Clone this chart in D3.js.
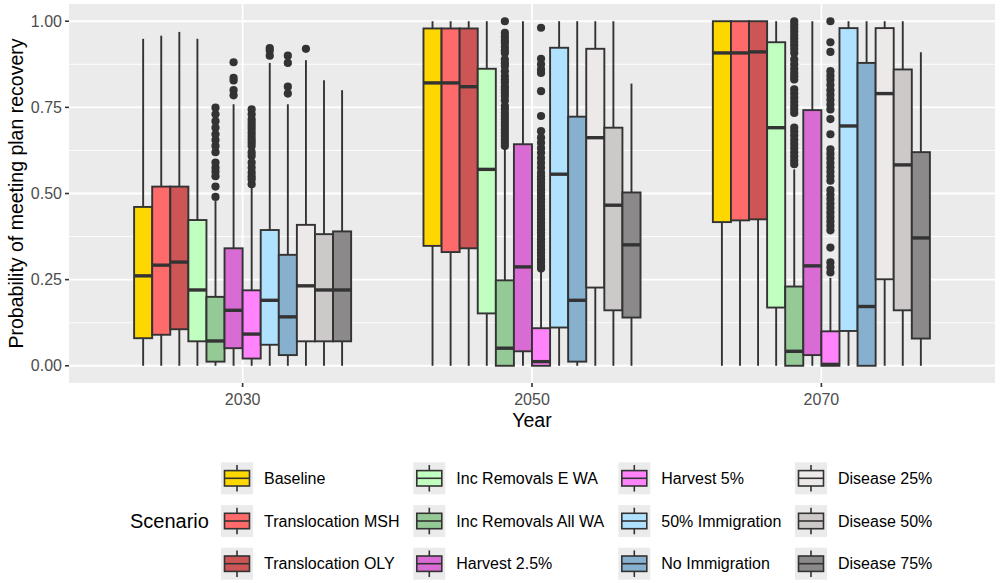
<!DOCTYPE html>
<html><head><meta charset="utf-8">
<script src="https://cdn.jsdelivr.net/npm/d3@7"></script>
<style>body{margin:0;background:#fff;} svg{display:block;font-family:"Liberation Sans",Arial,sans-serif;}</style>
</head><body>
<svg id="c" width="1000" height="583"></svg>
<script>
const years = ["2030", "2050", "2070"];
const scenarios = ["Baseline","Translocation MSH","Translocation OLY","Inc Removals E WA","Inc Removals All WA","Harvest 2.5%","Harvest 5%","50% Immigration","No Immigration","Disease 25%","Disease 50%","Disease 75%"];
const colors = ["#FFD700","#FF6A6A","#CD5555","#C1FFC1","#95C995","#D96BD5","#FF83FA","#B0E2FF","#86B0CE","#EEE9E9","#CDC9C9","#8B8989"];
const yTicks = [0, 0.25, 0.5, 0.75, 1];

// 2030
const lo2030  = [0,0,0,0,0,0,0,0,0,0,0,0];
const q1_2030 = [0.080,0.090,0.106,0.071,0.012,0.051,0.021,0.061,0.031,0.071,0.071,0.071];
const med2030 = [0.261,0.292,0.301,0.220,0.072,0.161,0.092,0.190,0.142,0.232,0.220,0.220];
const q3_2030 = [0.461,0.520,0.520,0.423,0.200,0.341,0.219,0.394,0.322,0.409,0.382,0.390];
const hi2030  = [0.949,0.958,0.969,0.949,0.478,0.759,0.519,0.879,0.759,0.887,0.829,0.800];
const out2030 = [[],[],[],[],
  [0.490,0.520,0.550,0.563,0.575,0.590,0.620,0.638,0.655,0.672,0.691,0.710,0.730,0.749],
  [0.785,0.800,0.828,0.836,0.881],
  [0.527,0.541,0.550,0.561,0.575,0.590,0.609,0.620,0.638,0.648,0.657,0.667,0.677,0.687,0.696,0.705,0.715,0.730,0.744],
  [0.900,0.915,0.922],
  [0.790,0.810,0.879,0.900],
  [0.920],[],[]];

// 2050
const lo2050  = [0,0,0,0,0,0,0,0,0,0,0,0];
const q1_2050 = [0.348,0.330,0.341,0.152,0.000,0.042,0.000,0.111,0.012,0.227,0.161,0.140];
const med2050 = [0.821,0.821,0.810,0.570,0.051,0.287,0.012,0.556,0.190,0.662,0.466,0.351];
const q3_2050 = [0.979,0.979,0.979,0.862,0.248,0.643,0.109,0.923,0.723,0.920,0.691,0.503];
const hi2050  = [1.000,1.000,1.000,1.000,0.631,1.000,0.275,1.000,1.000,1.000,1.000,0.819];
const out2050 = [[],[],[],[],
  [1.000,0.966,0.955,0.945,0.937,0.925,0.915,0.908,0.889,0.878,0.870,0.855,0.841,0.830,0.822,0.810,0.802,0.792,0.783,0.770,0.754,0.745,0.734,0.725,0.715,0.705,0.696,0.686,0.677,0.667,0.657,0.647,0.638],
  [],
  [0.981,0.891,0.875,0.860,0.850,0.797,0.725,0.681,0.662,0.647,0.632,0.618,0.603,0.589,0.575,0.560,0.550,0.541,0.531,0.522,0.512,0.503,0.493,0.483,0.474,0.464,0.454,0.444,0.435,0.425,0.415,0.406,0.396,0.387,0.377,0.367,0.358,0.348,0.338,0.329,0.319,0.309,0.300,0.290,0.282],
  [],[],[],[],[]];

// 2070
const lo2070  = [0,0,0,0,0,0,0,0,0,0,0,0];
const q1_2070 = [0.417,0.422,0.425,0.169,0.000,0.031,0.000,0.101,0.000,0.251,0.161,0.079];
const med2070 = [0.908,0.908,0.911,0.691,0.042,0.290,0.004,0.696,0.172,0.790,0.583,0.371];
const q3_2070 = [1.000,1.000,1.000,0.939,0.230,0.742,0.100,0.980,0.879,0.980,0.860,0.620];
const hi2070  = [1.000,1.000,1.000,1.000,0.570,1.000,0.255,1.000,1.000,1.000,1.000,0.910];
const out2070 = [[],[],[],[],
  [1.000,0.990,0.980,0.970,0.960,0.950,0.940,0.930,0.920,0.908,0.889,0.875,0.862,0.850,0.840,0.831,0.802,0.790,0.778,0.766,0.755,0.745,0.734,0.691,0.680,0.668,0.656,0.644,0.632,0.620,0.608,0.596,0.585],
  [],
  [1.000,0.939,0.911,0.855,0.842,0.830,0.815,0.800,0.786,0.772,0.758,0.744,0.716,0.672,0.628,0.615,0.602,0.589,0.576,0.563,0.550,0.537,0.510,0.497,0.484,0.471,0.458,0.445,0.432,0.419,0.406,0.393,0.343,0.300,0.286,0.271],
  [],[],[],[],[]];

const stats = {
  "2030": {lo: lo2030, q1: q1_2030, med: med2030, q3: q3_2030, hi: hi2030, out: out2030},
  "2050": {lo: lo2050, q1: q1_2050, med: med2050, q3: q3_2050, hi: hi2050, out: out2050},
  "2070": {lo: lo2070, q1: q1_2070, med: med2070, q3: q3_2070, hi: hi2070, out: out2070}
};

const svg = d3.select("#c");
const P = {l: 69, r: 995, t: 4, b: 383};
const x = d3.scalePoint().domain(years).range([P.l, P.r]).padding(0.6);
const step = x.step();
const inner = d3.scaleBand().domain(scenarios).range([-0.375 * step, 0.375 * step]).padding(0);
const y = d3.scaleLinear().domain([-0.05, 1.05]).range([P.b, P.t]);
const color = d3.scaleOrdinal().domain(scenarios).range(colors);

// panel
svg.append("rect").attr("x", P.l).attr("y", P.t).attr("width", P.r - P.l).attr("height", P.b - P.t).attr("fill", "#EBEBEB");
const minor = [0.125, 0.375, 0.625, 0.875];
svg.append("g").selectAll("line").data(minor).join("line")
  .attr("x1", P.l).attr("x2", P.r).attr("y1", d => y(d)).attr("y2", d => y(d))
  .attr("stroke", "#fff").attr("stroke-width", 0.9);
svg.append("g").selectAll("line").data(yTicks).join("line")
  .attr("x1", P.l).attr("x2", P.r).attr("y1", d => y(d)).attr("y2", d => y(d))
  .attr("stroke", "#fff").attr("stroke-width", 1.8);
svg.append("g").selectAll("line").data(years).join("line")
  .attr("x1", d => x(d)).attr("x2", d => x(d)).attr("y1", P.t).attr("y2", P.b)
  .attr("stroke", "#fff").attr("stroke-width", 1.8);

// boxes
const bw = inner.bandwidth();
const stroke = "#333333";
years.forEach(yr => {
  const s = stats[yr];
  const g = svg.append("g");
  scenarios.forEach((sc, i) => {
    const x0 = x(yr) + inner(sc);
    const cx = x0 + bw / 2;
    g.append("line").attr("x1", cx).attr("x2", cx).attr("y1", y(s.q3[i])).attr("y2", y(s.hi[i]))
      .attr("stroke", stroke).attr("stroke-width", 1.9);
    g.append("line").attr("x1", cx).attr("x2", cx).attr("y1", y(s.q1[i])).attr("y2", y(s.lo[i]))
      .attr("stroke", stroke).attr("stroke-width", 1.9);
    g.append("rect").attr("x", x0).attr("width", bw)
      .attr("y", y(s.q3[i])).attr("height", Math.max(0.5, y(s.q1[i]) - y(s.q3[i])))
      .attr("fill", color(sc)).attr("stroke", stroke).attr("stroke-width", 1.9);
    g.append("line").attr("x1", x0).attr("x2", x0 + bw).attr("y1", y(s.med[i])).attr("y2", y(s.med[i]))
      .attr("stroke", stroke).attr("stroke-width", 3.4);
    g.selectAll(null).data(s.out[i]).join("circle")
      .attr("cx", cx).attr("cy", d => y(d)).attr("r", 4.1).attr("fill", stroke);
  });
});

// y axis
const ya = svg.append("g");
ya.selectAll("line").data(yTicks).join("line")
  .attr("x1", P.l - 4).attr("x2", P.l).attr("y1", d => y(d)).attr("y2", d => y(d))
  .attr("stroke", "#333").attr("stroke-width", 1.6);
ya.selectAll("text").data(yTicks).join("text")
  .attr("x", P.l - 7).attr("y", d => y(d)).attr("dy", "0.35em").attr("text-anchor", "end")
  .attr("font-size", 16).attr("fill", "#4D4D4D").text(d => d3.format(".2f")(d));
svg.append("text").attr("transform", `translate(23,${(P.t + P.b) / 2}) rotate(-90)`)
  .attr("text-anchor", "middle").attr("font-size", 19.5).attr("fill", "#000")
  .text("Probability of meeting plan recovery");

// x axis
const xa = svg.append("g");
xa.selectAll("line").data(years).join("line")
  .attr("x1", d => x(d)).attr("x2", d => x(d)).attr("y1", P.b).attr("y2", P.b + 4)
  .attr("stroke", "#333").attr("stroke-width", 1.6);
xa.selectAll("text").data(years).join("text")
  .attr("x", d => x(d)).attr("y", 405).attr("text-anchor", "middle")
  .attr("font-size", 16).attr("fill", "#4D4D4D").text(d => d);
svg.append("text").attr("x", (P.l + P.r) / 2).attr("y", 427).attr("text-anchor", "middle")
  .attr("font-size", 19.5).attr("fill", "#000").text("Year");

// legend
const colX = [221, 413.3, 618.3, 795];
const rowY = [462.3, 505, 547.7];
const ks = 32;
svg.append("text").attr("x", 130).attr("y", rowY[1] + ks / 2).attr("dy", "0.35em")
  .attr("font-size", 20).attr("fill", "#000").text("Scenario");
scenarios.forEach((sc, i) => {
  const c = Math.floor(i / 3), r = i % 3;
  const kx = colX[c], ky = rowY[r];
  const g = svg.append("g").attr("transform", `translate(${kx},${ky})`);
  g.append("rect").attr("width", ks).attr("height", ks).attr("fill", "#EBEBEB");
  g.append("line").attr("x1", ks / 2).attr("x2", ks / 2).attr("y1", 2.7).attr("y2", 29.3)
    .attr("stroke", stroke).attr("stroke-width", 1.6);
  g.append("rect").attr("x", 3.5).attr("y", 8.3).attr("width", ks - 7).attr("height", 15.4)
    .attr("fill", color(sc)).attr("stroke", stroke).attr("stroke-width", 1.6);
  g.append("line").attr("x1", 3.5).attr("x2", ks - 3.5).attr("y1", 16).attr("y2", 16)
    .attr("stroke", stroke).attr("stroke-width", 1.6);
  svg.append("text").attr("x", kx + 43).attr("y", ky + ks / 2).attr("dy", "0.35em")
    .attr("font-size", 16).attr("fill", "#000").text(sc);
});
</script>
</body></html>
